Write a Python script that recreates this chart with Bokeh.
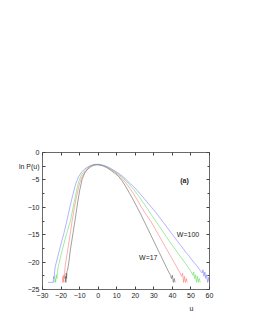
from bokeh.plotting import figure
from bokeh.models import Range1d, LinearAxis, FixedTicker, Label, Title
from bokeh.embed import file_html
from bokeh.resources import INLINE

# W=17 (black)
u_black = [-17.8, -17.6, -17.4, -17.2, -17.0, -16.8, -16.5, -15.8, -15.0, -13.5, -12.3, -11.0, -10.0, -8.6, -7.0,
           -5.5, -4.0, -2.5, -1.0, 0.0, 1, 3, 5, 7, 9, 11, 13, 15, 17, 19, 21, 23, 25, 27, 29, 31, 33, 35, 37,
           38, 39, 39.5, 40, 40.5, 41, 41.5]
lp_black = [-23.7, -22.6, -23.7, -22.0, -23.0, -21.6, -21.5, -20.0, -17.8, -14.6, -12.0, -9.0, -7.0, -4.8, -3.6,
            -3.0, -2.6, -2.35, -2.25, -2.25, -2.3, -2.5, -2.85, -3.3, -3.8, -4.35, -5.2, -6.3, -7.5, -8.7, -10.0,
            -11.3, -12.7, -14.1, -15.5, -16.9, -18.3, -19.7, -21.1, -21.8, -22.4, -23.0, -22.4, -23.7, -23.0, -23.7]

# red
u_red = [-19.2, -19.0, -18.8, -18.5, -18.2, -18.0, -17.7, -16.5, -15.2, -14.0, -12.8, -11.5, -10.0, -8.5, -7.0,
         -5.5, -4.0, -2.5, -1.0, 0.0, 1, 3, 5, 7, 9, 11, 13, 15, 17, 19, 21, 23, 25, 27, 29, 31, 33, 35, 37, 39,
         41, 43, 44, 45, 45.5, 46, 46.5, 47, 47.5, 48]
lp_red = [-23.7, -22.6, -23.7, -22.3, -23.0, -21.4, -20.5, -18.0, -15.2, -12.4, -10.0, -7.8, -5.6, -4.3, -3.5,
          -2.9, -2.55, -2.3, -2.2, -2.2, -2.25, -2.45, -2.75, -3.15, -3.6, -4.1, -4.8, -5.6, -6.5, -7.5, -8.6,
          -9.8, -10.9, -11.9, -12.9, -14.1, -15.3, -16.5, -17.7, -18.9, -20.1, -21.3, -21.9, -22.6, -22.0,
          -23.7, -22.6, -23.7, -23.0, -23.7]

# green
u_green = [-23.5, -23.2, -22.9, -22.6, -22.2, -21.9, -21.3, -19.2, -17.0, -14.9, -13.5, -12.0, -10.5, -9.0,
           -7.5, -6.0, -4.5, -3.0, -1.5, 0.0, 1, 3, 5, 7, 9, 11, 13, 15, 17, 19, 21, 23, 25, 27, 29, 31, 33, 35,
           37, 39, 41, 43, 45, 47, 49, 50, 51, 51.5, 52, 52.5, 53, 53.5, 54, 54.5, 55]
lp_green = [-23.7, -23.0, -23.7, -22.3, -23.0, -21.6, -20.5, -17.6, -14.8, -12.4, -10.0, -7.5, -5.3, -4.1,
            -3.4, -2.9, -2.55, -2.3, -2.2, -2.2, -2.25, -2.4, -2.7, -3.05, -3.45, -3.95, -4.5, -5.2, -5.9, -6.7,
            -7.6, -8.5, -9.5, -10.5, -11.5, -12.5, -13.5, -14.5, -15.5, -16.5, -17.4, -18.4, -19.3, -20.2,
            -21.2, -21.7, -22.4, -21.8, -23.0, -22.3, -23.7, -22.6, -23.7, -23.0, -23.7]

# W=100 (blue)
u_blue = [-27.0, -25.0, -24.2, -24.0, -23.7, -23.5, -23.1, -22.5, -20.5, -18.5, -16.8, -15.2, -13.5, -12.0,
          -10.5, -9.0, -7.5, -6.0, -4.5, -3.0, -1.5, 0.0, 1, 3, 5, 7, 9, 11, 13, 15, 17, 19, 21, 23, 25, 27, 29,
          31, 33, 35, 37, 39, 41, 43, 45, 47, 49, 51, 53, 55, 56, 56.5, 57, 57.5, 58, 58.5, 59, 59.5, 60]
lp_blue = [-23.7, -23.7, -23.7, -22.6, -23.0, -21.8, -20.8, -20.0, -17.3, -14.8, -12.4, -9.9, -7.5, -5.6,
           -4.4, -3.6, -3.1, -2.7, -2.45, -2.25, -2.15, -2.15, -2.2, -2.35, -2.6, -2.95, -3.35, -3.8, -4.3,
           -4.9, -5.6, -6.2, -6.9, -7.7, -8.5, -9.3, -10.1, -10.9, -11.8, -12.7, -13.6, -14.5, -15.4, -16.3,
           -17.2, -18.1, -18.9, -19.8, -20.6, -21.5, -22.0, -21.4, -22.6, -21.8, -23.0, -22.3, -23.7, -22.8, -23.7]

x_ticks = [-30, -20, -10, 0, 10, 20, 30, 40, 50, 60]
y_ticks = [-25, -20, -15, -10, -5, 0]
y_minor = [-22.5, -17.5, -12.5, -7.5, -2.5]
y_label_pos = -2.5
y_label = "ln P(u)"
x_label = "u"

FONT = "Liberation Sans"
TICK_COLOR = "#444444"

p = figure(width=245, height=319, output_backend="svg", toolbar_location=None,
           x_range=Range1d(-30, 60), y_range=Range1d(-25, 0),
           min_border_left=42, min_border_right=36, min_border_top=152, min_border_bottom=30)
p.outline_line_color = None
p.grid.visible = False
p.background_fill_color = "white"
p.border_fill_color = "white"

def style_axis(ax, show_labels):
    ax.axis_line_color = TICK_COLOR
    ax.axis_line_width = 0.8
    ax.major_tick_in = 3
    ax.major_tick_out = 0
    ax.minor_tick_in = 2
    ax.minor_tick_out = 0
    ax.major_tick_line_color = TICK_COLOR
    ax.minor_tick_line_color = TICK_COLOR
    ax.major_label_text_font = FONT
    ax.major_label_text_font_size = "7px"
    ax.major_label_text_color = "#222222" if show_labels else None
    ax.major_label_standoff = 3

p.xaxis.ticker = FixedTicker(ticks=x_ticks)
p.yaxis.ticker = FixedTicker(ticks=y_ticks + [y_label_pos],
                             minor_ticks=[t for t in y_minor if t != y_label_pos])
style_axis(p.xaxis[0], True)
style_axis(p.yaxis[0], True)
p.xaxis.minor_tick_line_color = None
p.yaxis.major_label_overrides = {y_label_pos: y_label}

top = LinearAxis(ticker=FixedTicker(ticks=x_ticks))
style_axis(top, False)
top.minor_tick_line_color = None
top.major_label_text_font_size = "0px"
p.add_layout(top, "above")

right = LinearAxis(ticker=FixedTicker(ticks=y_ticks, minor_ticks=y_minor))
style_axis(right, False)
right.major_label_text_font_size = "0px"
p.add_layout(right, "right")

p.add_layout(Title(text=x_label, align="right", offset=16, text_font=FONT,
                   text_font_size="7px", text_font_style="normal", text_color="#222222",
                   standoff=4), "below")

p.line(u_black, lp_black, line_color="#555555", line_width=0.7, line_alpha=0.8)
p.line(u_red, lp_red, line_color="#ff7070", line_width=0.7, line_alpha=0.8)
p.line(u_green, lp_green, line_color="#55dd55", line_width=0.7, line_alpha=0.8)
p.line(u_blue, lp_blue, line_color="#7777ff", line_width=0.7, line_alpha=0.8)

def lab(x, y, text, align="center", bold=False):
    p.add_layout(Label(x=x, y=y, text=text, text_font=FONT, text_font_size="7px",
                       text_color="#222222", text_align=align, text_baseline="middle",
                       text_font_style="bold" if bold else "normal"))

lab(46.5, -5.1, "(a)", bold=True)
lab(48.4, -15.05, "W=100")
lab(27.0, -19.2, "W=17")

open("out.html", "w").write(file_html(p, INLINE))
